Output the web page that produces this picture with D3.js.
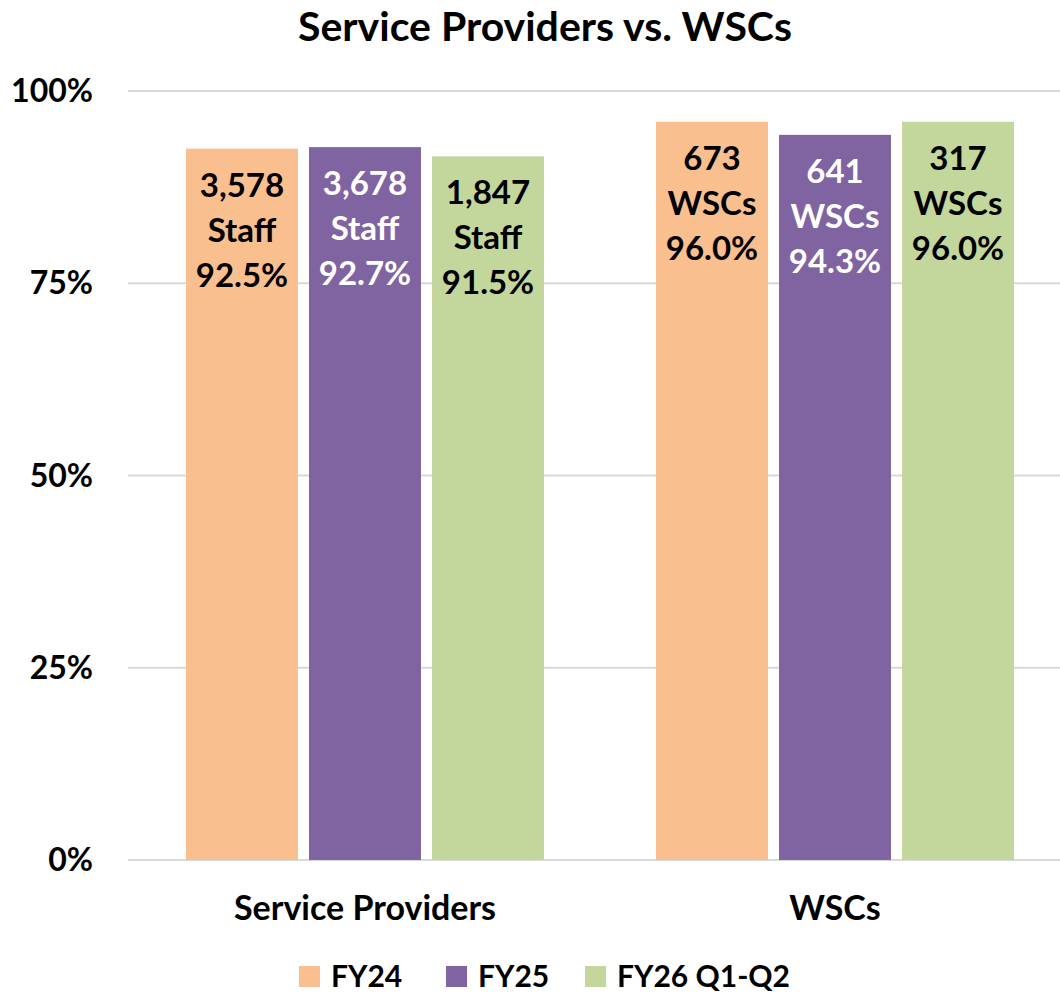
<!DOCTYPE html>
<html>
<head>
<meta charset="utf-8">
<script src="https://cdn.jsdelivr.net/npm/d3@7"></script>
<style>
  html, body { margin: 0; padding: 0; background: #fff; }
  svg { display: block; font-family: Lato, "Open Sans", sans-serif; font-weight: 700; }
</style>
</head>
<body>
<div id="chart"></div>
<script>
// chart values
const categories = ['Service Providers', 'WSCs'];
const series = ['FY24', 'FY25', 'FY26 Q1-Q2'];
const seriesColors = ['#F9BF8F', '#8064A2', '#C3D69B'];
const labelColors = ['#000000', '#ffffff', '#000000'];
// rate per category, per series
const rates = [
  [0.925, 0.927, 0.915],
  [0.960, 0.943, 0.960]
];
const counts = [
  ['3,578', '3,678', '1,847'],
  ['673', '641', '317']
];
const countUnits = ['Staff', 'WSCs'];
const pctLabels = [
  ['92.5%', '92.7%', '91.5%'],
  ['96.0%', '94.3%', '96.0%']
];
const yTicks = [0, 0.25, 0.5, 0.75, 1];

const W = 1060, H = 995;
const plot = { left: 130, right: 1070, top: 91, bottom: 860 };

const svg = d3.select('#chart').append('svg')
  .attr('width', W)
  .attr('height', H);

const x0 = d3.scaleBand()
  .domain(categories)
  .range([plot.left, plot.right])
  .padding(0);

const x1 = d3.scaleBand()
  .domain(series)
  .range([56, x0.bandwidth() - 56])
  .paddingInner(0.09);

const y = d3.scaleLinear()
  .domain([0, 1])
  .range([plot.bottom, plot.top]);

// title
svg.append('text')
  .attr('x', 545)
  .attr('y', 41)
  .attr('text-anchor', 'middle')
  .attr('font-size', '41px')
  .attr('fill', '#000')
  .text('Service Providers vs. WSCs');

// gridlines
svg.append('g')
  .selectAll('line')
  .data(yTicks)
  .join('line')
  .attr('x1', 128)
  .attr('x2', W)
  .attr('y1', d => y(d))
  .attr('y2', d => y(d))
  .attr('stroke', '#d9d9d9')
  .attr('stroke-width', 2);

// y tick labels
svg.append('g')
  .selectAll('text')
  .data(yTicks)
  .join('text')
  .attr('x', 93)
  .attr('y', d => y(d) + 11)
  .attr('text-anchor', 'end')
  .attr('font-size', '32px')
  .attr('fill', '#000')
  .text(d3.format('.0%'));

// bars
const barData = categories.flatMap((c, ci) => series.map((s, si) => ({
  cat: c, ci, s, si,
  value: rates[ci][si],
  lines: [counts[ci][si], countUnits[ci], pctLabels[ci][si]]
})));

const groups = svg.append('g')
  .selectAll('g')
  .data(barData)
  .join('g')
  .attr('transform', d => `translate(${x0(d.cat) + x1(d.s)},0)`);

groups.append('rect')
  .attr('x', 0)
  .attr('y', d => y(d.value))
  .attr('width', x1.bandwidth())
  .attr('height', d => y(0) - y(d.value))
  .attr('fill', d => seriesColors[d.si]);

groups.append('text')
  .attr('text-anchor', 'middle')
  .attr('font-size', '33px')
  .attr('fill', d => labelColors[d.si])
  .selectAll('tspan')
  .data(d => d.lines.map((t, i) => ({ t, i, top: y(d.value) })))
  .join('tspan')
  .attr('x', x1.bandwidth() / 2)
  .attr('y', d => d.top + 48 + d.i * 45)
  .text(d => d.t);

// category labels
svg.append('g')
  .selectAll('text')
  .data(categories)
  .join('text')
  .attr('x', d => x0(d) + x0.bandwidth() / 2)
  .attr('y', 920)
  .attr('text-anchor', 'middle')
  .attr('font-size', '34px')
  .attr('fill', '#000')
  .text(d => d);

// legend
const legendX = [299, 446, 585];
const legend = svg.append('g')
  .selectAll('g')
  .data(series)
  .join('g')
  .attr('transform', (d, i) => `translate(${legendX[i]},966)`);

legend.append('rect')
  .attr('width', 21)
  .attr('height', 21)
  .attr('fill', (d, i) => seriesColors[i]);

legend.append('text')
  .attr('x', 32)
  .attr('y', 21)
  .attr('font-size', '30px')
  .attr('fill', '#000')
  .text(d => d);
</script>
</body>
</html>
